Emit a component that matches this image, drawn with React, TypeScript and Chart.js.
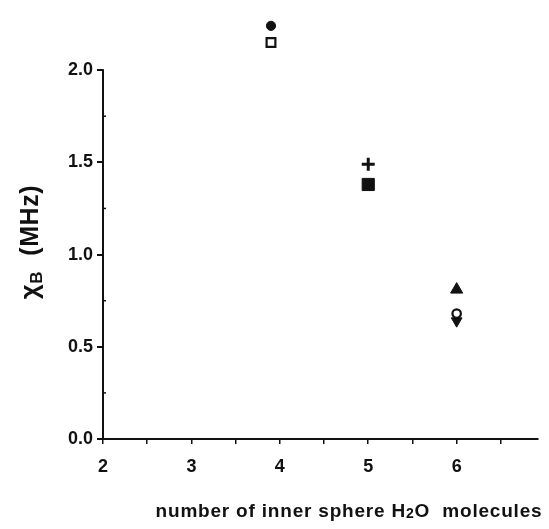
import React, { useEffect, useRef } from 'react';
import { Chart, registerables } from 'chart.js';

Chart.register(...registerables);

// Data
const innerSphereWater = [3.9, 3.9, 5, 5, 6, 6, 6];
const chiBValues = [2.24, 2.15, 1.49, 1.38, 0.81, 0.68, 0.64];
const xTickLabels = ['2', '3', '4', '5', '6'];
const yTickLabels = ['0.0', '0.5', '1.0', '1.5', '2.0'];
const yMinorTicks = [0.25, 0.75, 1.25, 1.75];

const INK = '#111111';
const FONT = '"Liberation Sans", Arial, sans-serif';

// Marker styles (one per point)
const markers = [
  { pointStyle: 'circle', radius: 4.6, fill: INK, borderWidth: 1, rotation: 0 },
  { pointStyle: 'rect', radius: 6.2, fill: '#ffffff', borderWidth: 2.2, rotation: 0 },
  { pointStyle: 'cross', radius: 6.5, fill: INK, borderWidth: 3, rotation: 0 },
  { pointStyle: 'rect', radius: 8.6, fill: INK, borderWidth: 1, rotation: 0 },
  { pointStyle: 'triangle', radius: 7, fill: INK, borderWidth: 1, rotation: 0 },
  { pointStyle: 'circle', radius: 4.2, fill: '#ffffff', borderWidth: 2.2, rotation: 0 },
  { pointStyle: 'triangle', radius: 6.2, fill: INK, borderWidth: 1, rotation: 180 },
];

type Seg = { text: string; size: number; dy: number };

function drawRich(ctx: CanvasRenderingContext2D, segs: Seg[], cx: number, baseline: number, spacing: number) {
  const widths = segs.map((s) => {
    ctx.font = `bold ${s.size}px ${FONT}`;
    return ctx.measureText(s.text).width + spacing * s.text.length;
  });
  const total = widths.reduce((a, b) => a + b, 0);
  let x = cx - total / 2;
  segs.forEach((s, i) => {
    ctx.font = `bold ${s.size}px ${FONT}`;
    let px = x;
    for (const ch of s.text) {
      ctx.fillText(ch, px, baseline + s.dy);
      px += ctx.measureText(ch).width + spacing;
    }
    x += widths[i];
  });
}

const decorPlugin = {
  id: 'decor',
  afterDraw(chart: any) {
    const ctx: CanvasRenderingContext2D = chart.ctx;
    const ys = chart.scales.y;
    const left = chart.chartArea.left;
    ctx.save();
    ctx.strokeStyle = INK;
    ctx.fillStyle = INK;
    ctx.lineWidth = 2;
    ctx.beginPath();
    ctx.moveTo(left, ys.getPixelForValue(0) + 1);
    ctx.lineTo(left, ys.getPixelForValue(2) - 1);
    ctx.stroke();
    ctx.lineWidth = 1.5;
    yMinorTicks.forEach((v) => {
      const p = ys.getPixelForValue(v);
      ctx.beginPath();
      ctx.moveTo(left, p);
      ctx.lineTo(left + 3, p);
      ctx.stroke();
    });
    ctx.textAlign = 'left';
    ctx.textBaseline = 'alphabetic';
    // x-axis title
    drawRich(
      ctx,
      [
        { text: 'number of inner sphere H', size: 19, dy: 0 },
        { text: '2', size: 14, dy: 1 },
        { text: 'O  molecules', size: 19, dy: 0 },
      ],
      349,
      517,
      0.8
    );
    // y-axis title
    ctx.translate(38, 242);
    ctx.rotate(-Math.PI / 2);
    drawRich(
      ctx,
      [
        { text: 'χ', size: 26, dy: 0 },
        { text: 'B', size: 17, dy: 4 },
        { text: '  (MHz)', size: 25, dy: 0 },
      ],
      0,
      0,
      0.6
    );
    ctx.restore();
  },
};

export default function App() {
  const canvasRef = useRef<HTMLCanvasElement | null>(null);

  useEffect(() => {
    const canvas = canvasRef.current;
    if (!canvas) return;
    const datasets = innerSphereWater.map((xv, i) => ({
      label: `point ${i + 1}`,
      data: [{ x: xv, y: chiBValues[i] }],
      pointStyle: markers[i].pointStyle as any,
      pointRadius: markers[i].radius,
      pointBackgroundColor: markers[i].fill,
      pointBorderColor: INK,
      pointBorderWidth: markers[i].borderWidth,
      pointRotation: markers[i].rotation,
      showLine: false,
    }));
    const chart = new Chart(canvas, {
      type: 'scatter',
      data: { datasets },
      options: {
        responsive: false,
        animation: false,
        events: [],
        layout: { padding: { top: 7, right: 11, left: 0, bottom: 0 } },
        plugins: { legend: { display: false }, tooltip: { enabled: false }, title: { display: false } },
        scales: {
          x: {
            type: 'linear',
            min: 2,
            max: 6.92,
            border: { display: true, color: INK, width: 2 },
            grid: { drawOnChartArea: false, drawTicks: true, tickLength: 5, color: INK, tickColor: INK, lineWidth: 1.5 },
            ticks: {
              stepSize: 0.5,
              includeBounds: false,
              autoSkip: false,
              maxRotation: 0,
              padding: 12,
              color: INK,
              font: { family: FONT, size: 18, weight: 'bold' },
              callback: (v: any) => {
                const idx = xTickLabels.indexOf(String(v));
                return idx >= 0 ? xTickLabels[idx] : '';
              },
            },
            afterFit: (s: any) => {
              s.height = 90;
            },
          },
          y: {
            type: 'linear',
            min: 0,
            max: 2.3,
            border: { display: false },
            grid: { drawOnChartArea: false, drawTicks: true, tickLength: 6, color: INK, tickColor: INK, lineWidth: 2 },
            ticks: {
              stepSize: 0.5,
              includeBounds: false,
              autoSkip: false,
              padding: 4,
              color: INK,
              font: { family: FONT, size: 18, weight: 'bold' },
              callback: (v: any) => {
                const s = Number(v).toFixed(1);
                return yTickLabels.includes(s) ? s : '';
              },
            },
            afterFit: (s: any) => {
              s.width = 103;
            },
          },
        },
      },
      plugins: [decorPlugin],
    });
    return () => chart.destroy();
  }, []);

  return (
    <div style={{ position: 'fixed', left: 0, top: 0, width: 549, height: 529, background: '#fff' }}>
      <canvas ref={canvasRef} width={549} height={529} style={{ width: 549, height: 529, display: 'block' }} />
    </div>
  );
}
